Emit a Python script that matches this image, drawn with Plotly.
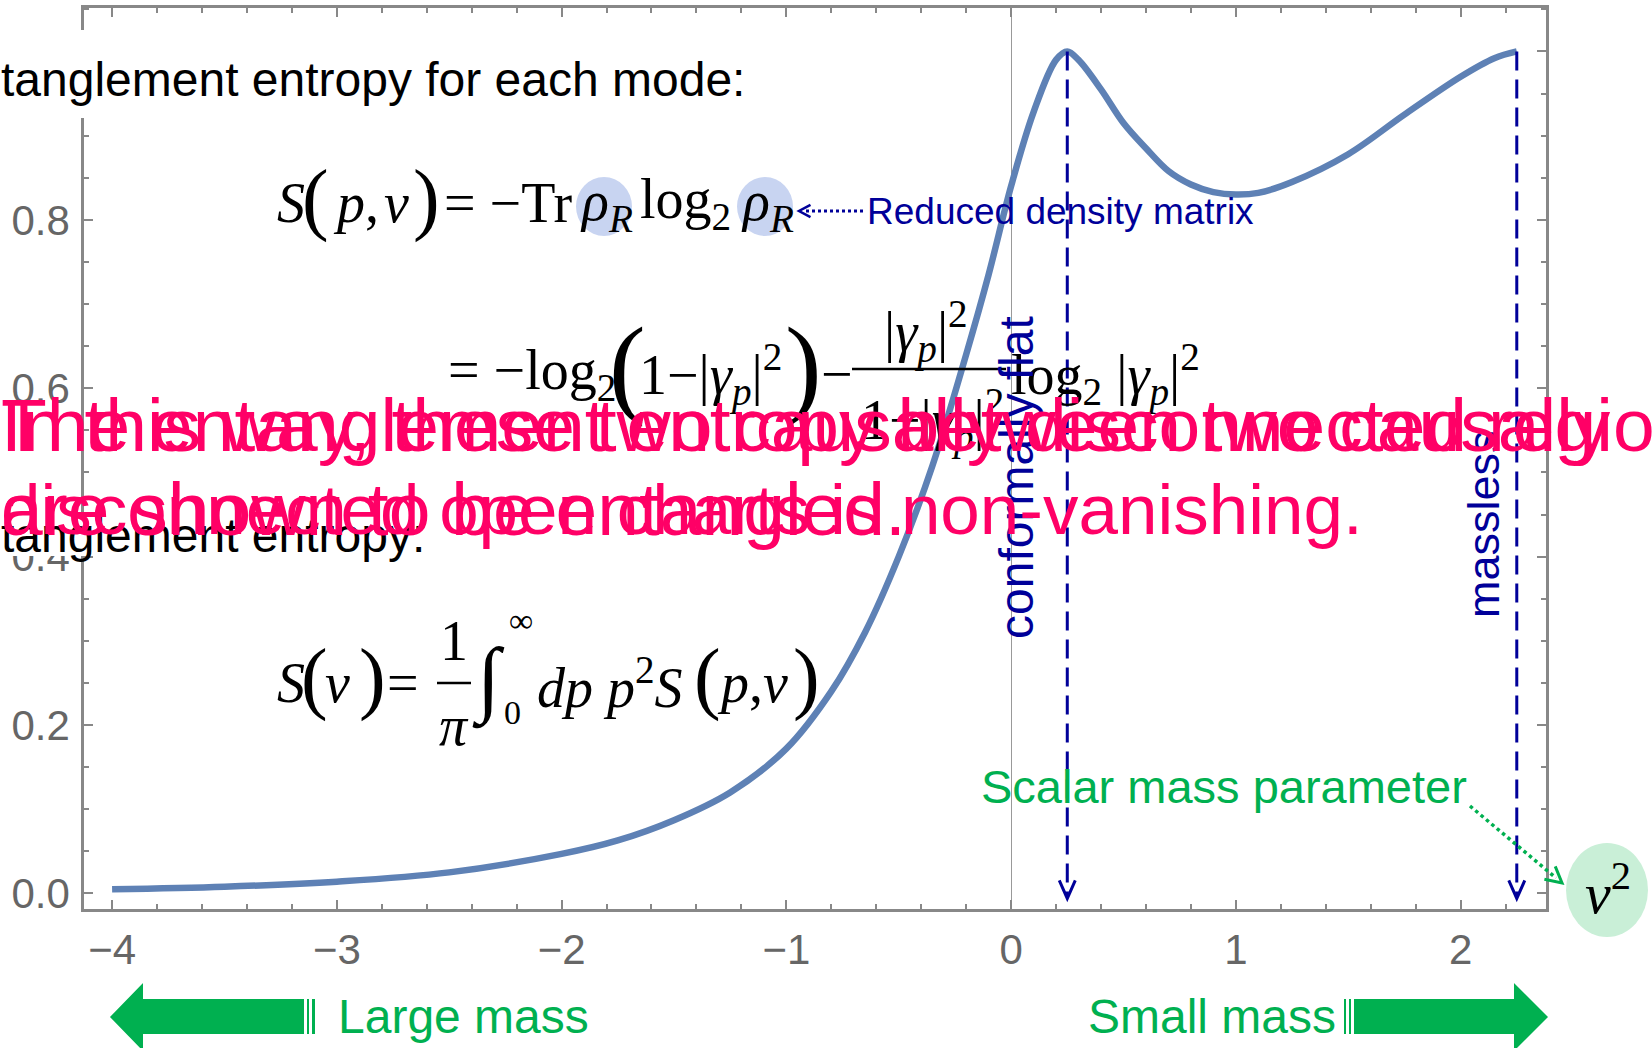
import math
import plotly.graph_objects as go

# ---------------- data ----------------
mass_param = [-4.0, -3.5, -3.0, -2.5, -2.0, -1.75, -1.5, -1.25, -1.0, -0.8, -0.65, -0.5, -0.35,
              -0.2, -0.1, 0.0, 0.1, 0.2, 0.25, 0.3, 0.4, 0.5, 0.6, 0.7, 0.8, 0.9, 1.0, 1.1,
              1.25, 1.5, 1.75, 2.0, 2.15, 2.25]
entropy = [0.005, 0.008, 0.014, 0.025, 0.047, 0.063, 0.087, 0.12, 0.172, 0.24, 0.31, 0.40, 0.508,
           0.64, 0.735, 0.84, 0.928, 0.99, 1.0, 0.99, 0.955, 0.915, 0.885, 0.858, 0.842, 0.833,
           0.83, 0.832, 0.845, 0.878, 0.925, 0.97, 0.992, 1.0]
marker_x = [0.25, 2.25]
marker_labels = ["conformally flat", "massless"]
x_ticks = [-4, -3, -2, -1, 0, 1, 2]
x_tick_text = ["\u22124", "\u22123", "\u22122", "\u22121", "0", "1", "2"]
y_ticks = [0.0, 0.2, 0.4, 0.6, 0.8, 1.0]
y_tick_text = ["0.0", "0.2", "0.4", "0.6", "0.8", "1.0"]

pink_a = ["In this way, these two causally disconnected regions", "are shown to be entangled."]
pink_b = ["The entanglement entropy between two causally", "disconnected open charts is non-vanishing."]

# ---------------- layout helpers (pixel -> paper) ----------------
W, H = 1652, 1048
L, R, T, B = 84, 1546, 8, 909
def px(x):
    return (x - L) / (R - L)
def py(y):
    return (B - y) / (B - T)

SANS = "Liberation Sans, Arial, sans-serif"
SERIF = "Liberation Serif, Times New Roman, serif"
NAVY = "#000099"
GREEN = "#00B050"
PINK = "#FF0066"
GRAY = "#666666"
AXC = "#888888"

fig = go.Figure()
fig.add_trace(go.Scatter(x=mass_param, y=entropy, mode="lines",
                         line=dict(color="#5E81B5", width=6.5, shape="spline", smoothing=1.0),
                         hoverinfo="skip", showlegend=False))

shapes = []
annotations = []

def ann(text, x, y, size, color="black", family=SANS, xanchor="center", yanchor="middle",
        textangle=0):
    annotations.append(dict(text=text, xref="paper", yref="paper", x=px(x), y=py(y),
                            showarrow=False, xanchor=xanchor, yanchor=yanchor,
                            textangle=textangle, borderpad=0,
                            font=dict(size=size, color=color, family=family)))

def ellipse(x0, x1, y0, y1, color):
    shapes.append(dict(type="circle", xref="paper", yref="paper", x0=px(x0), x1=px(x1),
                       y0=py(y1), y1=py(y0), fillcolor=color, line=dict(width=0), layer="above"))

def poly(points, color, width=0, fill=True):
    path = "M " + " L ".join(f"{px(a):.5f},{py(b):.5f}" for a, b in points)
    if fill:
        path += " Z"
    shapes.append(dict(type="path", xref="paper", yref="paper", path=path,
                       fillcolor=color if fill else None,
                       line=dict(color=color, width=width), layer="above"))

def seg(x0, y0, x1, y1, color, width, dash="solid"):
    shapes.append(dict(type="line", xref="paper", yref="paper", x0=px(x0), y0=py(y0),
                       x1=px(x1), y1=py(y1), line=dict(color=color, width=width, dash=dash),
                       layer="above"))

def head(xt, yt, dx, dy, color, size=16, width=3):
    n = math.hypot(dx, dy)
    ux, uy = dx / n, dy / n
    pts = []
    for ang in (math.radians(28), -math.radians(28)):
        bx = -ux * math.cos(ang) + uy * math.sin(ang)
        by = -uy * math.cos(ang) - ux * math.sin(ang)
        pts.append((xt + bx * size, yt + by * size))
    poly([pts[0], (xt, yt), pts[1]], color, width=width, fill=False)

# white boxes behind the black headings (they hide parts of the axis, as on the slide)
poly([(0, 30), (752, 30), (752, 118), (0, 118)], "white")
poly([(0, 512), (425, 512), (425, 556), (0, 556)], "white")

ann("tanglement entropy for each mode:", 0, 79, 48, xanchor="left")
ann("tanglement entropy:", 0, 535, 48, xanchor="left")

# formula 1
FS = 56
ellipse(576, 632, 177, 236, "rgba(190,205,238,0.85)")
ellipse(737, 793, 177, 236, "rgba(190,205,238,0.85)")
ann("<i>S</i>", 276, 203, FS, family=SERIF, xanchor="left")
ann("(", 315, 198, 80, family=SERIF)
ann("<i>p</i>,", 332, 203, FS, family=SERIF, xanchor="left")
ann("<i>\u03bd</i>", 396, 203, FS, family=SERIF)
ann(")", 426, 198, 80, family=SERIF)
ann("= \u2212Tr", 443, 203, FS, family=SERIF, xanchor="left")
ann("<i>\u03c1</i><sub><i>R</i></sub>", 606, 205, FS, family=SERIF)
ann("log<sub>2</sub>", 639, 203, FS, family=SERIF, xanchor="left")
ann("<i>\u03c1</i><sub><i>R</i></sub>", 767, 205, FS, family=SERIF)
seg(806, 211, 864, 211, NAVY, 3, "dot")
head(799, 211, -1, 0, NAVY, size=13, width=2.5)
ann("Reduced density matrix", 866, 211, 37, color=NAVY, xanchor="left")

# formula 2
ann("= \u2212log<sub>2</sub>", 447, 374, FS, family=SERIF, xanchor="left")
ann("(", 627, 366, 110, family=SERIF)
ann("1\u2212|<i>\u03b3</i><sub><i>p</i></sub>|<sup>2</sup>", 638, 374, FS, family=SERIF, xanchor="left")
ann(")", 803, 366, 110, family=SERIF)
ann("\u2212", 837, 374, FS, family=SERIF)
ann("|<i>\u03b3</i><sub><i>p</i></sub>|<sup>2</sup>", 926, 331, FS, family=SERIF)
seg(852, 369, 1006, 369, "black", 2.5)
ann("1\u2212|<i>\u03b3</i><sub><i>p</i></sub>|<sup>2</sup>", 932, 420, FS, family=SERIF)
ann("log<sub>2</sub> |<i>\u03b3</i><sub><i>p</i></sub>|<sup>2</sup>", 1010, 374, FS, family=SERIF, xanchor="left")

# formula 3
ann("<i>S</i>", 276, 683, FS, family=SERIF, xanchor="left")
ann("(", 314, 678, 80, family=SERIF)
ann("<i>\u03bd</i>", 324, 683, FS, family=SERIF, xanchor="left")
ann(")", 372, 678, 80, family=SERIF)
ann("=", 403, 683, FS, family=SERIF)
ann("1", 454, 641, FS, family=SERIF)
seg(437, 683, 471, 683, "black", 2.5)
ann("<i>\u03c0</i>", 454, 726, FS, family=SERIF)
ann("\u222b", 488, 680, 84, family=SERIF)
ann("\u221e", 521, 620, 34, family=SERIF)
ann("0", 512, 712, 34, family=SERIF)
ann("<i>dp p</i><sup>2</sup><i>S</i>", 536, 683, FS, family=SERIF, xanchor="left")
ann("(", 707, 678, 80, family=SERIF)
ann("<i>p</i>,<i>\u03bd</i>", 716, 683, FS, family=SERIF, xanchor="left")
ann(")", 806, 678, 80, family=SERIF)

# marker lines (conformally flat / massless)
for mx, lab in zip(marker_x, marker_labels):
    shapes.append(dict(type="line", xref="x", yref="y", x0=mx, x1=mx, y0=1.0, y1=-0.004,
                       line=dict(color=NAVY, width=3, dash="19px,9px"), layer="above"))
    shapes.append(dict(type="path", xref="x", yref="y", xsizemode="pixel", ysizemode="pixel",
                       xanchor=mx, yanchor=-0.006, path="M -8,18 L 0,0 L 8,18",
                       line=dict(color=NAVY, width=3), layer="above"))
ann(marker_labels[0], 1016, 478, 48, color=NAVY, textangle=-90)
ann(marker_labels[1], 1483, 524, 45, color=NAVY, textangle=-90)

# scalar mass parameter
ann("Scalar mass parameter", 980, 786, 47, color=GREEN, xanchor="left")
seg(1470, 806, 1556, 878, GREEN, 3.5, "dot")
head(1562, 883, 86, 72, GREEN, size=18, width=3)
ellipse(1566, 1648, 843, 937, "#C9EFD7")
ann("<i>\u03bd</i><sup>2</sup>", 1608, 889, 58, family=SERIF)

# bottom block arrows
poly([(110, 1017), (143, 983), (143, 999), (304, 999), (304, 1034), (143, 1034), (143, 1051)], GREEN)
poly([(307, 999), (309, 999), (309, 1034), (307, 1034)], GREEN)
poly([(312, 999), (315, 999), (315, 1034), (312, 1034)], GREEN)
ann("Large mass", 337, 1016, 48, color=GREEN, xanchor="left")
poly([(1548, 1017), (1514, 983), (1514, 999), (1354, 999), (1354, 1034), (1514, 1034), (1514, 1051)], GREEN)
poly([(1344, 999), (1346, 999), (1346, 1034), (1344, 1034)], GREEN)
poly([(1349, 999), (1351, 999), (1351, 1034), (1349, 1034)], GREEN)
ann("Small mass", 1087, 1016, 48, color=GREEN, xanchor="left")

# overlapping pink captions
ann(pink_a[0], 0, 425, 75, color=PINK, xanchor="left")
ann(pink_b[0], 0, 425, 75, color=PINK, xanchor="left")
ann(pink_a[1], 0, 509, 75, color=PINK, xanchor="left")
ann(pink_b[1], 0, 509, 71, color=PINK, xanchor="left")

fig.update_layout(
    width=W, height=H,
    margin=dict(l=L, r=W - R, t=T, b=H - B, pad=0, autoexpand=False),
    paper_bgcolor="white", plot_bgcolor="white",
    shapes=shapes, annotations=annotations, showlegend=False,
    xaxis=dict(range=[-4.125, 2.38], tickvals=x_ticks, ticktext=x_tick_text,
               tickfont=dict(size=42, color=GRAY, family=SANS), automargin=False,
               ticks="inside", ticklen=9, tickwidth=1.5, tickcolor=AXC,
               showline=True, linecolor=AXC, linewidth=2.5, mirror="ticks",
               showgrid=False, zeroline=True, zerolinecolor="#999999", zerolinewidth=1,
               minor=dict(ticks="inside", ticklen=5, dtick=0.2, tick0=0, tickcolor=AXC, showgrid=False),
               ticklabelstandoff=2),
    yaxis=dict(range=[-0.0185, 1.0516], tickvals=y_ticks, ticktext=y_tick_text,
               tickfont=dict(size=42, color=GRAY, family=SANS), automargin=False,
               ticks="inside", ticklen=9, tickwidth=1.5, tickcolor=AXC,
               showline=True, linecolor=AXC, linewidth=2.5, mirror="ticks",
               showgrid=False, zeroline=False,
               minor=dict(ticks="inside", ticklen=5, dtick=0.05, tick0=0, tickcolor=AXC, showgrid=False),
               ticklabelstandoff=3),
)

fig.write_html("out.html")
